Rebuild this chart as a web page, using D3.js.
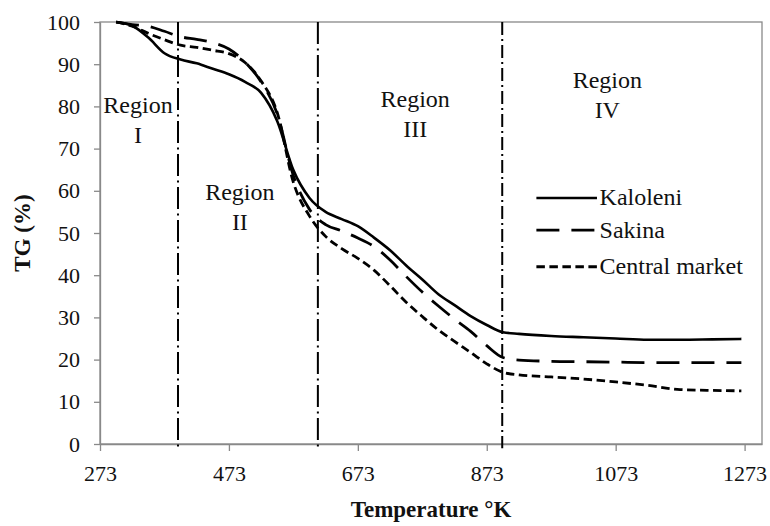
<!DOCTYPE html>
<html><head><meta charset="utf-8">
<script src="https://cdn.jsdelivr.net/npm/d3@7/dist/d3.min.js"></script>
<style>
body{margin:0;background:#fff;}
</style></head>
<body><svg id="c" width="770" height="526"></svg>
<script>
const temperatures = [298,323,348,373,398,423,448,473,498,523,548,573,598,623,648,673,698,723,748,773,798,823,848,873,898,923,973,1023,1073,1123,1173,1223,1268];
const kaloleni = [100,99.1,96.3,92.6,91.1,90.2,88.9,87.6,85.8,83.2,76.5,64.9,58.3,55.0,53.3,51.6,48.9,45.9,42.3,39.0,35.5,32.9,30.3,28.2,26.5,26.1,25.6,25.3,25.0,24.7,24.7,24.8,24.9];
const sakina = [100,99.4,99.0,97.8,96.5,95.9,95.1,93.6,90.5,85.8,78.2,63.6,55.6,52.0,50.5,48.8,46.8,43.6,39.7,36.0,32.7,29.6,26.7,23.3,20.5,19.9,19.6,19.5,19.4,19.3,19.3,19.3,19.3];
const centralMarket = [100,99.0,97.3,95.8,94.5,94.0,93.3,92.5,90.4,86.0,78.5,62.0,54.0,49.2,46.3,44.0,41.2,37.5,33.6,30.2,27.0,24.3,21.7,19.0,17.0,16.4,15.9,15.4,14.7,13.9,12.9,12.7,12.6];
const seriesNames = ["Kaloleni","Sakina","Central market"];
const xTicks = [273,473,673,873,1073,1273];
const yTicks = [0,10,20,30,40,50,60,70,80,90,100];
const regionBounds = [394,611,897];
const regionLabels = [["Region","I"],["Region","II"],["Region","III"],["Region","IV"]];

const FONT = '"Liberation Serif","Times New Roman","DejaVu Serif",serif';
const svg = d3.select("#c");
const m = {l:100,t:22,r:762,b:444};
const x = d3.scaleLinear().domain([273,1300]).range([m.l,m.r]);
const y = d3.scaleLinear().domain([0,100]).range([m.b,m.t]);
const axisColor = "#898989";

// plot border
svg.append("rect").attr("x",m.l).attr("y",m.t).attr("width",m.r-m.l).attr("height",m.b-m.t)
  .attr("fill","none").attr("stroke",axisColor).attr("stroke-width",1.3);

// axes
const gx = svg.append("g").attr("transform",`translate(0,${m.b})`)
  .call(d3.axisBottom(x).tickValues(xTicks).tickSize(7).tickSizeOuter(0).tickPadding(14).tickFormat(d3.format("d")));
const gy = svg.append("g").attr("transform",`translate(${m.l},0)`)
  .call(d3.axisLeft(y).tickValues(yTicks).tickSize(6).tickSizeOuter(0).tickPadding(14));
[gx,gy].forEach(g=>{
  g.attr("font-family",null).attr("font-size",null);
  g.select(".domain").attr("stroke",axisColor).attr("stroke-width",1.3);
  g.selectAll(".tick line").attr("stroke",axisColor).attr("stroke-width",1.3);
  g.selectAll(".tick text").style("font-family",FONT).style("font-size","22px").attr("fill","#111");
});

// region boundaries
const boundDash = ["22,4.5,2,4.5","22,4.5,2,4.5","13,4,2,4"];
regionBounds.forEach((t,i)=>{
  svg.append("line").attr("x1",x(t)).attr("x2",x(t)).attr("y1",y(100)).attr("y2",y(-1))
    .attr("stroke","#000").attr("stroke-width",2).attr("stroke-dasharray",boundDash[i]);
});

// region labels (centre temperature, baseline value)
const regionCenters = [332,490,762,1060];
const regionBase = [78.4,57.8,79.9,84.4];
regionLabels.forEach((lab,i)=>{
  const t = svg.append("text").attr("text-anchor","middle")
    .style("font-family",FONT).style("font-size","24px").attr("fill","#111")
    .attr("x",x(regionCenters[i])).attr("y",y(regionBase[i]));
  t.append("tspan").attr("x",x(regionCenters[i])).text(lab[0]);
  t.append("tspan").attr("x",x(regionCenters[i])).attr("dy",30).text(lab[1]);
});

// series
const data = [kaloleni,sakina,centralMarket];
const dashes = [null,"23,12","8.5,4.5"];
const widths = [2.6,2.8,2.8];
const line = d3.line().x((d,i)=>x(temperatures[i])).y(d=>y(d)).curve(d3.curveMonotoneX);
data.forEach((vals,i)=>{
  svg.append("path").datum(vals).attr("d",line).attr("fill","none").attr("stroke","#000")
    .attr("stroke-width",widths[i]).attr("stroke-dasharray",dashes[i]);
});

// legend
const legY = [58.3,50.7,42.0];
seriesNames.forEach((n,i)=>{
  const yy = y(legY[i]);
  svg.append("line").attr("x1",x(950)).attr("x2",x(1044)).attr("y1",yy).attr("y2",yy)
    .attr("stroke","#000").attr("stroke-width",widths[i]).attr("stroke-dasharray",dashes[i]);
  svg.append("text").attr("x",x(1048)).attr("y",yy+7.5)
    .style("font-family",FONT).style("font-size","24px").attr("fill","#111").text(n);
});

// axis titles
svg.append("text").attr("x",(m.l+m.r)/2).attr("y",517).attr("text-anchor","middle")
  .style("font-family",FONT).style("font-size","23px").style("font-weight","bold").attr("fill","#111").text("Temperature °K");
svg.append("text").attr("transform",`translate(30,${(m.t+m.b)/2}) rotate(-90)`).attr("text-anchor","middle")
  .style("font-family",FONT).style("font-size","23px").style("font-weight","bold").attr("fill","#111").text("TG (%)");
</script></body></html>
